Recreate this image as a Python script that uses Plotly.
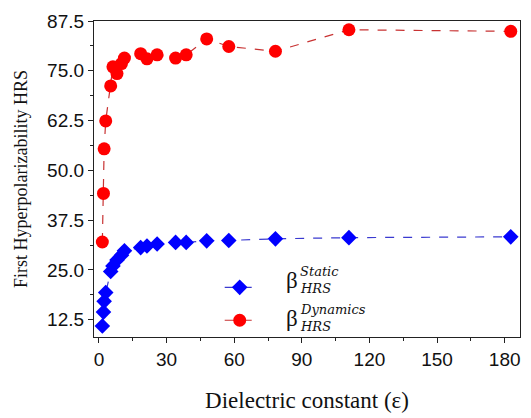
import plotly.graph_objects as go

# Data
eps = [1.5, 2.0, 2.3, 3.0, 5.2, 6.2, 8.0, 10.0, 11.3, 18.5, 21.3, 25.8,
       34.0, 38.7, 47.8, 57.6, 78.3, 110.9, 182.7]
beta_static = [10.9, 14.4, 17.1, 19.3, 24.6, 26.0, 27.5, 28.7, 29.8, 30.6,
               31.0, 31.5, 31.9, 31.9, 32.3, 32.4, 32.8, 33.1, 33.3]
beta_dynamic = [32.0, 44.2, 55.4, 62.4, 71.2, 76.0, 74.3, 76.8, 78.2, 79.3,
                78.0, 79.0, 78.2, 79.0, 83.0, 81.1, 79.9, 85.3, 84.9]
y_ticks = [12.5, 25.0, 37.5, 50.0, 62.5, 75.0, 87.5]
x_ticks = [0, 30, 60, 90, 120, 150, 180]

fig = go.Figure()
fig.add_trace(go.Scatter(
    x=eps, y=beta_static, mode="lines+markers", name=" ",
    line=dict(color="#3a3ad0", width=1.2, dash="dash"),
    marker=dict(symbol="diamond", size=12, color="#0000ff"),
))
fig.add_trace(go.Scatter(
    x=eps, y=beta_dynamic, mode="lines+markers", name="  ",
    line=dict(color="#c83232", width=1.2, dash="dash"),
    marker=dict(symbol="circle", size=13, color="#ff0000"),
))

axis_common = dict(
    showline=True, linecolor="#222", linewidth=1.2, mirror=True,
    ticks="outside", ticklen=5, tickwidth=1, tickcolor="#222",
    showgrid=False, zeroline=False,
    tickfont=dict(family="Liberation Sans, Arial", size=19, color="#111"),
)

fig.update_xaxes(
    range=[-2.2, 186.8], tickvals=x_ticks,
    minor=dict(dtick=15, tick0=0, ticks="outside", ticklen=3, tickcolor="#222"),
    title=dict(text="Dielectric constant (ε)",
               font=dict(family="Liberation Serif, Times New Roman", size=23, color="#111"),
               standoff=22),
    **axis_common,
)
fig.update_yaxes(
    range=[8.15, 87.5], tickvals=y_ticks, tickformat=".1f",
    minor=dict(dtick=6.25, tick0=0, ticks="outside", ticklen=3, tickcolor="#222"),
    title=dict(text="First Hyperpolarizability HRS",
               font=dict(family="Liberation Serif, Times New Roman", size=18, color="#111"),
               standoff=14),
    **axis_common,
)

def px2paper_x(px):
    return (px - 94) / 427

def px2paper_y(py):
    return (341 - py) / 320

ann = []
for beta_y, sup_y, sub_y, sup in [(284, 275, 292, "Static"), (322, 313, 330, "Dynamics")]:
    ann.append(dict(text="β", x=px2paper_x(284), y=px2paper_y(beta_y), xref="paper", yref="paper",
                    xanchor="left", yanchor="middle", showarrow=False,
                    font=dict(family="Liberation Serif", size=23, color="#111")))
    ann.append(dict(text="<i>" + sup + "</i>", x=px2paper_x(299), y=px2paper_y(sup_y), xref="paper", yref="paper",
                    xanchor="left", yanchor="middle", showarrow=False, borderpad=0,
                    font=dict(family="DejaVu Serif", size=13, color="#111")))
    ann.append(dict(text="<i>HRS</i>", x=px2paper_x(299), y=px2paper_y(sub_y), xref="paper", yref="paper",
                    xanchor="left", yanchor="middle", showarrow=False, borderpad=0,
                    font=dict(family="DejaVu Serif", size=13, color="#111")))

fig.update_layout(
    width=531, height=418,
    margin=dict(l=94, r=10, t=21, b=77),
    paper_bgcolor="white", plot_bgcolor="white",
    showlegend=True,
    legend=dict(x=px2paper_x(220), y=px2paper_y(269), xanchor="left", yanchor="top",
                bgcolor="rgba(0,0,0,0)", font=dict(size=23), tracegroupgap=0),
    annotations=ann,
)

fig.write_html("out.html")
